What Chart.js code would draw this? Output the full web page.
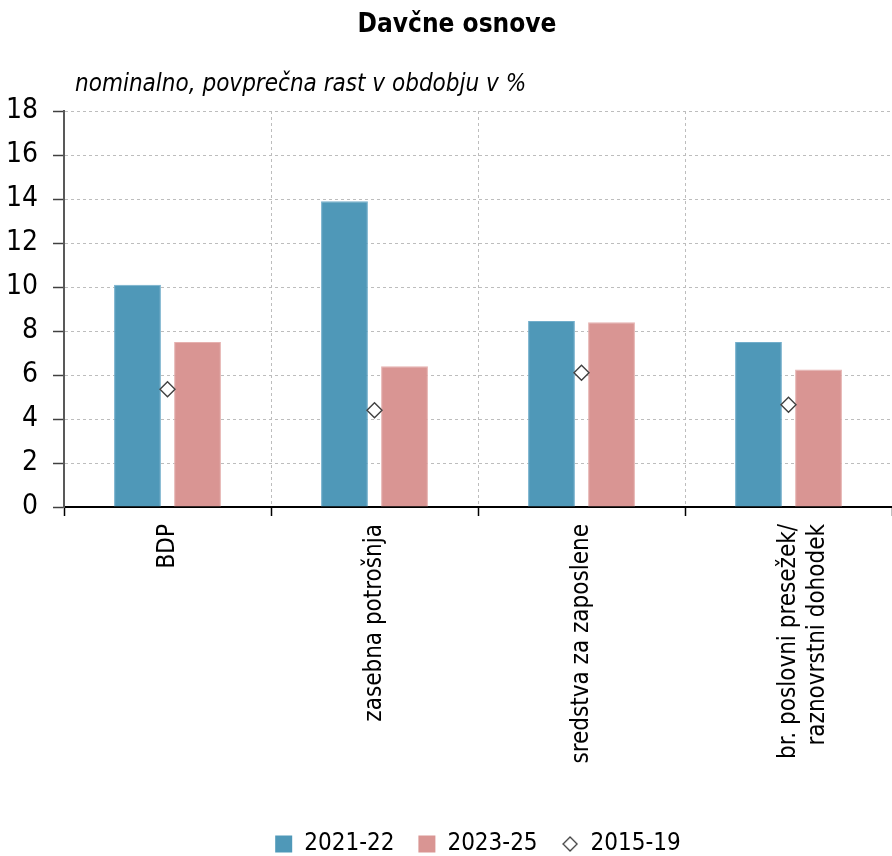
<!DOCTYPE html>
<html lang="sl">
<head>
<meta charset="utf-8">
<title>Davčne osnove</title>
<script src="https://cdn.jsdelivr.net/npm/chart.js@4/dist/chart.umd.min.js"></script>
<style>
  html, body { margin: 0; padding: 0; background: #ffffff; }
  #wrap { position: relative; width: 892px; height: 856px; }
</style>
</head>
<body>
<div id="wrap"><canvas id="chart" width="892" height="856"></canvas></div>
<script>
// Categories and series (nominal, average growth over the period, %)
const categories = [
  'BDP',
  'zasebna potrošnja',
  'sredstva za zaposlene',
  ['br. poslovni presežek/', 'raznovrstni dohodek']
];
const growth2021_22 = [10.1, 13.9, 8.45, 7.5];
const growth2023_25 = [7.5, 6.4, 8.4, 6.25];
const growth2015_19 = [5.35, 4.4, 6.1, 4.65];
const yTicks = [0, 2, 4, 6, 8, 10, 12, 14, 16, 18];

const TITLE = 'Davčne osnove';
const SUBTITLE = 'nominalno, povprečna rast v obdobju v %';

const FONT = "'Liberation Sans Narrow', 'DejaVu Sans Condensed', 'Roboto', sans-serif";
const BLUE = '#4f98b8';
const PINK = '#d99593';

// Small diamond used as the legend marker for the 2015-19 average
function diamondIcon(size) {
  const c = document.createElement('canvas');
  c.width = size; c.height = size;
  const g = c.getContext('2d');
  const h = size / 2;
  g.beginPath();
  g.moveTo(h, 1); g.lineTo(size - 1, h); g.lineTo(h, size - 1); g.lineTo(1, h);
  g.closePath();
  g.fillStyle = '#ffffff'; g.fill();
  g.lineWidth = 1.3; g.strokeStyle = '#404040'; g.stroke();
  return c;
}
const legendDiamond = diamondIcon(16);

// Heading and italic unit line, drawn in the space reserved above the plot
const headingLines = {
  id: 'headingLines',
  afterDraw(chart) {
    const ctx = chart.ctx;
    const area = chart.chartArea;
    ctx.save();
    ctx.fillStyle = '#000000';
    ctx.textBaseline = 'middle';
    ctx.textAlign = 'center';
    ctx.font = "bold 26px " + FONT;
    ctx.fillText(TITLE, 457, 25);
    ctx.textAlign = 'left';
    ctx.font = "italic 24px " + FONT;
    ctx.fillText(SUBTITLE, area.left + 11, 85);
    ctx.restore();
  }
};

new Chart(document.getElementById('chart'), {
  type: 'bar',
  data: {
    labels: categories,
    datasets: [
      {
        label: '2021-22',
        data: growth2021_22,
        backgroundColor: BLUE,
        borderColor: '#72aecb',
        borderWidth: 1,
        pointStyle: 'rect',
        categoryPercentage: 0.58,
        barPercentage: 0.78
      },
      {
        label: '2023-25',
        data: growth2023_25,
        backgroundColor: PINK,
        borderColor: '#e6b1af',
        borderWidth: 1,
        pointStyle: 'rect',
        categoryPercentage: 0.58,
        barPercentage: 0.78
      },
      {
        type: 'line',
        label: '2015-19',
        data: growth2015_19,
        showLine: false,
        order: -1,
        clip: false,
        pointStyle: 'rectRot',
        pointRadius: 7.5,
        pointHoverRadius: 7.5,
        pointBackgroundColor: '#ffffff',
        pointBorderColor: '#404040',
        pointBorderWidth: 1.4,
        backgroundColor: '#ffffff',
        borderColor: '#404040'
      }
    ]
  },
  options: {
    responsive: false,
    animation: false,
    layout: { autoPadding: false, padding: { left: 0, right: 0, top: 111, bottom: -10 } },
    plugins: {
      title: { display: false },
      legend: {
        position: 'bottom',
        fullSize: false,
        labels: {
          usePointStyle: true,
          boxWidth: 17,
          boxHeight: 17,
          padding: 24,
          color: '#000000',
          font: { family: FONT, size: 24 },
          sort: (a, b) => a.datasetIndex - b.datasetIndex,
          generateLabels(chart) {
            const items = Chart.defaults.plugins.legend.labels.generateLabels(chart);
            items.forEach(it => {
              if (it.datasetIndex === 2) {
                it.pointStyle = legendDiamond;
              } else {
                it.pointStyle = 'rect';
                it.lineWidth = 0;
                it.strokeStyle = it.fillStyle;
              }
            });
            return items;
          }
        }
      },
      tooltip: { enabled: false }
    },
    scales: {
      x: {
        offset: true,
        grid: {
          offset: true,
          color: '#bdbdbd',
          lineWidth: 1,
          drawTicks: true,
          tickLength: 9,
          tickColor: '#000000',
          tickWidth: 1.5
        },
        border: { display: true, color: '#000000', width: 2, dash: [3, 3] },
        ticks: {
          color: '#000000',
          font: { family: FONT, size: 24 },
          minRotation: 90,
          maxRotation: 90,
          autoSkip: false,
          padding: 8
        },
        afterFit(scale) { scale.height = 301; }
      },
      y: {
        min: 0,
        max: 18,
        afterBuildTicks(scale) { scale.ticks = yTicks.map(v => ({ value: v })); },
        grid: {
          color: '#bdbdbd',
          lineWidth: 1,
          drawTicks: true,
          tickLength: 11,
          tickColor: '#404040',
          tickWidth: 1.5
        },
        border: { display: true, color: '#595959', width: 2, dash: [3, 3] },
        ticks: {
          color: '#000000',
          font: { family: FONT, size: 28 },
          padding: 15
        },
        afterFit(scale) { scale.width = 64; }
      }
    }
  },
  plugins: [headingLines]
});
</script>
</body>
</html>
